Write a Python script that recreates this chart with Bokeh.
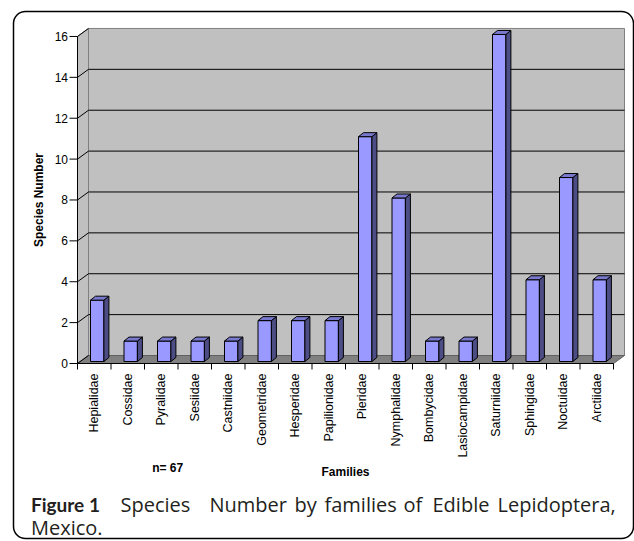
from math import pi
from bokeh.plotting import figure
from bokeh.models import Range1d, BoxAnnotation
from bokeh.core.properties import value
from bokeh.embed import file_html
from bokeh.resources import INLINE

# ---- data ----
families = ["Hepialidae", "Cossidae", "Pyralidae", "Sesiidae", "Castniidae",
            "Geometridae", "Hesperidae", "Papilionidae", "Pieridae", "Nymphalidae",
            "Bombycidae", "Lasiocampidae", "Saturniidae", "Sphingidae", "Noctuidae",
            "Arctiidae"]
species = [3, 1, 1, 1, 1, 2, 2, 2, 11, 8, 1, 1, 16, 4, 9, 4]
y_ticks = [0, 2, 4, 6, 8, 10, 12, 14, 16]
n_label = "n= 67"
x_title = "Families"
y_title = "Species Number"
caption_bold = "Figure 1"
caption_rest = "Species Number by families of Edible Lepidoptera,"
caption_line2 = "Mexico."

# ---- geometry (style) ----
n = len(families)
ymax = y_ticks[-1]
W, H = 634, 541
AX_L, AX_B = 77, 363            # page px of the front axes corner
PXX, PXY = 33.5, 20.44          # px per category / per unit
DX, DY = 11 / PXX, 8 / PXY      # wall depth
BX0, BW = 13 / PXX, 13.4 / PXX  # bar front face offset / width
BZ = 2 / PXY                    # bar base above front baseline
SDX, SDY = 5 / PXX, 4 / PXY     # bar depth
# justified caption: left px of each word of caption_rest
word_px = [120, 209, 294, 324, 403, 432, 497]


def px_x(px):  # page px -> data x
    return (px - AX_L) / PXX - 0.5


def px_y(py):  # page px -> data y
    return (AX_B - py) / PXY


p = figure(width=W, height=H, output_backend="svg", toolbar_location=None, title=None,
           x_range=Range1d(px_x(0), px_x(W)), y_range=Range1d(px_y(H), px_y(0)),
           x_axis_location=None, y_axis_location=None, min_border=0)
p.xgrid.visible = False
p.ygrid.visible = False
p.outline_line_color = None
p.background_fill_color = "white"
p.border_fill_color = "white"

WALL = "#c0c0c0"
EDGE = "#808080"
XL, XR = -0.5, n - 0.5
# back wall
p.quad(left=[XL + DX], right=[XR + DX], bottom=[DY], top=[ymax + DY],
       fill_color=WALL, line_color=EDGE, line_width=1)
# left wall
p.patch(x=[XL, XL, XL + DX, XL + DX], y=[0, ymax, ymax + DY, DY],
        fill_color=WALL, line_color=EDGE, line_width=1)
# floor
p.patch(x=[XL, XL + DX, XR + DX, XR], y=[0, DY, DY, 0],
        fill_color="#808080", line_color="#606060", line_width=1)
# gridlines on back wall
inner = y_ticks[1:-1]
p.segment(x0=[XL + DX] * len(inner), x1=[XR + DX] * len(inner),
          y0=[t + DY for t in inner], y1=[t + DY for t in inner],
          line_color="black", line_width=1)
# diagonals on left wall
p.segment(x0=[XL] * len(y_ticks), x1=[XL + DX] * len(y_ticks),
          y0=y_ticks, y1=[t + DY for t in y_ticks], line_color="black", line_width=1)

# bars
lefts = [i - 0.5 + BX0 for i in range(n)]
rights = [l + BW for l in lefts]
tops = [BZ + v for v in species]
p.quad(left=lefts, right=rights, bottom=[BZ] * n, top=tops,
       fill_color="#9999ff", line_color="black", line_width=1)
p.patches(xs=[[r, r + SDX, r + SDX, r] for r in rights],
          ys=[[BZ, BZ + SDY, t + SDY, t] for t in tops],
          fill_color="#4d4d85", line_color="black", line_width=1)
p.patches(xs=[[l, l + SDX, r + SDX, r] for l, r in zip(lefts, rights)],
          ys=[[t, t + SDY, t + SDY, t] for t in tops],
          fill_color="#7878cc", line_color="black", line_width=1)

FONT = value("Liberation Sans")
# y axis (line, ticks, labels)
p.segment(x0=[XL], x1=[XL], y0=[0], y1=[ymax], line_color="black", line_width=1)
p.segment(x0=[px_x(AX_L - 8)] * len(y_ticks), x1=[XL] * len(y_ticks),
          y0=y_ticks, y1=y_ticks, line_color="black", line_width=1)
p.text(x=[px_x(AX_L - 9.5)] * len(y_ticks), y=y_ticks, text=[str(t) for t in y_ticks],
       text_font=FONT, text_font_size="12px", text_color="black",
       text_align="right", text_baseline="middle")
p.text(x=[px_x(38)], y=[ymax / 2], text=[y_title], angle=pi / 2,
       text_font=FONT, text_font_size="12px", text_font_style="bold", text_color="black",
       text_align="center", text_baseline="middle")

# x axis (line, boundary ticks, labels)
bounds = [i - 0.5 for i in range(n + 1)]
p.segment(x0=[XL], x1=[XR], y0=[0], y1=[0], line_color="black", line_width=1)
p.segment(x0=bounds, x1=bounds, y0=[0] * len(bounds), y1=[px_y(AX_B + 6)] * len(bounds),
          line_color="black", line_width=1)
p.text(x=list(range(n)), y=[px_y(AX_B + 10)] * n, text=families, angle=pi / 2,
       text_font=FONT, text_font_size="12.5px", text_color="black",
       text_align="right", text_baseline="middle")
p.text(x=[(XL + XR) / 2], y=[px_y(471.5)], text=[x_title],
       text_font=FONT, text_font_size="12px", text_font_style="bold", text_color="black",
       text_align="center", text_baseline="alphabetic")
p.text(x=[px_x(151.7)], y=[px_y(467.5)], text=[n_label],
       text_font=FONT, text_font_size="12px", text_font_style="bold", text_color="black",
       text_align="left", text_baseline="alphabetic")

# caption (line 1 justified word by word)
CAP_B = value("Lato")
CAP = value("Open Sans")
p.text(x=[px_x(30.5)], y=[px_y(503.5)], text=[caption_bold], text_font=CAP_B,
       text_font_size="19px", text_font_style="bold", text_color="#231f20",
       text_baseline="alphabetic")
words = caption_rest.split(" ")
p.text(x=[px_x(w) for w in word_px], y=[px_y(503.5)] * len(words), text=words,
       text_font=CAP, text_font_size="20px", text_color="#231f20",
       text_baseline="alphabetic")
p.text(x=[px_x(30.5)], y=[px_y(526.5)], text=[caption_line2], text_font=CAP,
       text_font_size="20px", text_color="#231f20", text_baseline="alphabetic")

# rounded frame
p.add_layout(BoxAnnotation(left=px_x(13), right=px_x(633), top=px_y(11), bottom=px_y(538),
                           fill_alpha=0, line_color="black", line_width=1.5, line_alpha=1,
                           border_radius=12))

open("out.html", "w").write(file_html(p, INLINE))
